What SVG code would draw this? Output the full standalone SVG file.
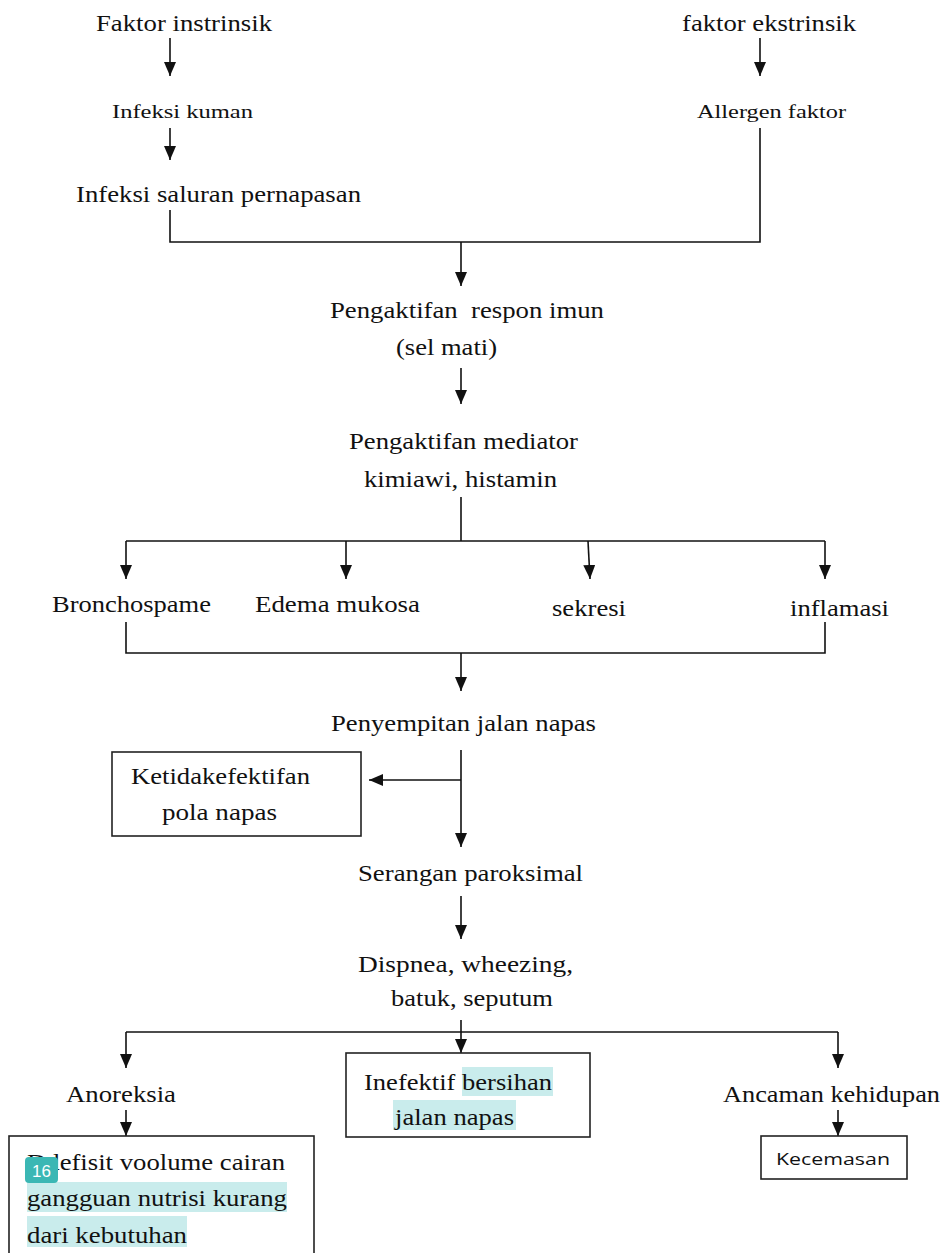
<svg xmlns="http://www.w3.org/2000/svg" width="948" height="1253" viewBox="0 0 948 1253">
<style>
text{font-family:'Liberation Serif','Times New Roman',serif;font-size:23px;fill:#111}
.s{font-size:19.5px}
.k{font-family:'Open Sans','Liberation Sans',sans-serif;font-size:17px}
.ln{fill:none;stroke:#111;stroke-width:1.6}
.box{fill:#fff;stroke:#222;stroke-width:1.6}
.hl{fill:#c9ecec}
</style>
<defs>
<marker id="ahd" markerWidth="14" markerHeight="12" refX="14" refY="6" orient="auto" markerUnits="userSpaceOnUse" viewBox="0 0 14 12">
<path d="M0,0 L14,6 L0,12 Z" fill="#111"/>
</marker>
</defs>
<rect width="948" height="1253" fill="#fff"/>

<g id="connectors">
<path class="ln" d="M170,38 V76" marker-end="url(#ahd)"/>
<path class="ln" d="M760,38 V76" marker-end="url(#ahd)"/>
<path class="ln" d="M170,128 V160" marker-end="url(#ahd)"/>
<path class="ln" d="M170,210 V242 H760 V128"/>
<path class="ln" d="M461,242 V286" marker-end="url(#ahd)"/>
<path class="ln" d="M461,368 V404" marker-end="url(#ahd)"/>
<path class="ln" d="M461,497 V541"/>
<path class="ln" d="M126,541 H825"/>
<path class="ln" d="M126,541 V579" marker-end="url(#ahd)"/>
<path class="ln" d="M346,541 V579" marker-end="url(#ahd)"/>
<path class="ln" d="M588,541 L590,579" marker-end="url(#ahd)"/>
<path class="ln" d="M825,541 V579" marker-end="url(#ahd)"/>
<path class="ln" d="M126,622 V653 H825 V622"/>
<path class="ln" d="M461,653 V691" marker-end="url(#ahd)"/>
<path class="ln" d="M461,750 V847" marker-end="url(#ahd)"/>
<path class="ln" d="M461,780 H369" marker-end="url(#ahd)"/>
<path class="ln" d="M461,896 V939" marker-end="url(#ahd)"/>
<path class="ln" d="M461,1020 V1053" marker-end="url(#ahd)"/>
<path class="ln" d="M126,1032 H838"/>
<path class="ln" d="M126,1032 V1068" marker-end="url(#ahd)"/>
<path class="ln" d="M838,1032 V1068" marker-end="url(#ahd)"/>
<path class="ln" d="M126,1110 V1136" marker-end="url(#ahd)"/>
<path class="ln" d="M838,1110 V1136" marker-end="url(#ahd)"/>
</g>

<g id="n-faktor-intrinsik"><text x="96" y="31" textLength="176" lengthAdjust="spacingAndGlyphs">Faktor instrinsik</text></g>
<g id="n-faktor-ekstrinsik"><text x="682" y="31" textLength="174" lengthAdjust="spacingAndGlyphs">faktor ekstrinsik</text></g>
<g id="n-infeksi-kuman"><text class="s" x="112" y="118" textLength="141" lengthAdjust="spacingAndGlyphs">Infeksi kuman</text></g>
<g id="n-allergen"><text class="s" x="697" y="118" textLength="149" lengthAdjust="spacingAndGlyphs">Allergen faktor</text></g>
<g id="n-infeksi-saluran"><text x="76" y="202" textLength="285" lengthAdjust="spacingAndGlyphs">Infeksi saluran pernapasan</text></g>
<g id="n-respon-imun">
<text x="330" y="318" textLength="274" lengthAdjust="spacingAndGlyphs" xml:space="preserve">Pengaktifan  respon imun</text>
<text x="396" y="355" textLength="101" lengthAdjust="spacingAndGlyphs">(sel mati)</text>
</g>
<g id="n-mediator">
<text x="349" y="449" textLength="229" lengthAdjust="spacingAndGlyphs">Pengaktifan mediator</text>
<text x="364" y="487" textLength="193" lengthAdjust="spacingAndGlyphs">kimiawi, histamin</text>
</g>
<g id="n-bronchospame"><text x="52" y="612" textLength="159" lengthAdjust="spacingAndGlyphs">Bronchospame</text></g>
<g id="n-edema"><text x="255" y="612" textLength="165" lengthAdjust="spacingAndGlyphs">Edema mukosa</text></g>
<g id="n-sekresi"><text x="552" y="616" textLength="74" lengthAdjust="spacingAndGlyphs">sekresi</text></g>
<g id="n-inflamasi"><text x="790" y="616" textLength="99" lengthAdjust="spacingAndGlyphs">inflamasi</text></g>
<g id="n-penyempitan"><text x="331" y="731" textLength="265" lengthAdjust="spacingAndGlyphs">Penyempitan jalan napas</text></g>
<g id="n-pola-napas">
<rect class="box" x="112" y="752" width="249" height="84"/>
<text x="131" y="784" textLength="179" lengthAdjust="spacingAndGlyphs">Ketidakefektifan</text>
<text x="162" y="820" textLength="115" lengthAdjust="spacingAndGlyphs">pola napas</text>
</g>
<g id="n-serangan"><text x="358" y="881" textLength="225" lengthAdjust="spacingAndGlyphs">Serangan paroksimal</text></g>
<g id="n-dispnea">
<text x="358" y="972" textLength="215" lengthAdjust="spacingAndGlyphs">Dispnea, wheezing,</text>
<text x="391" y="1006" textLength="162" lengthAdjust="spacingAndGlyphs">batuk, seputum</text>
</g>
<g id="n-anoreksia"><text x="66" y="1102" textLength="110" lengthAdjust="spacingAndGlyphs">Anoreksia</text></g>
<g id="n-bersihan">
<rect class="box" x="346" y="1053" width="244" height="84"/>
<rect class="hl" x="462" y="1067" width="91" height="29"/>
<rect class="hl" x="393" y="1100" width="123" height="30"/>
<text x="364" y="1090" textLength="188" lengthAdjust="spacingAndGlyphs">Inefektif bersihan</text>
<text x="395" y="1125" textLength="119" lengthAdjust="spacingAndGlyphs">jalan napas</text>
</g>
<g id="n-ancaman"><text x="723" y="1102" textLength="217" lengthAdjust="spacingAndGlyphs">Ancaman kehidupan</text></g>
<g id="n-kecemasan">
<rect class="box" x="761" y="1136" width="146" height="43"/>
<text class="k" x="776" y="1165" textLength="114" lengthAdjust="spacingAndGlyphs">Kecemasan</text>
</g>
<g id="n-defisit">
<rect class="box" x="9" y="1136" width="305" height="130"/>
<rect class="hl" x="27" y="1182" width="260" height="30"/>
<rect class="hl" x="27" y="1216" width="160" height="31"/>
<text x="27" y="1170" textLength="258" lengthAdjust="spacingAndGlyphs">Ddefisit voolume cairan</text>
<text x="27" y="1206" textLength="260" lengthAdjust="spacingAndGlyphs">gangguan nutrisi kurang</text>
<text x="27" y="1243" textLength="160" lengthAdjust="spacingAndGlyphs">dari kebutuhan</text>
</g>
<g id="badge">
<rect x="25" y="1157" width="33" height="26" rx="4" fill="#3bb7b4"/>
<text x="41.5" y="1177" text-anchor="middle" style="font-family:'Liberation Sans',Arial,sans-serif;font-size:17px;fill:#fff">16</text>
</g>
</svg>
